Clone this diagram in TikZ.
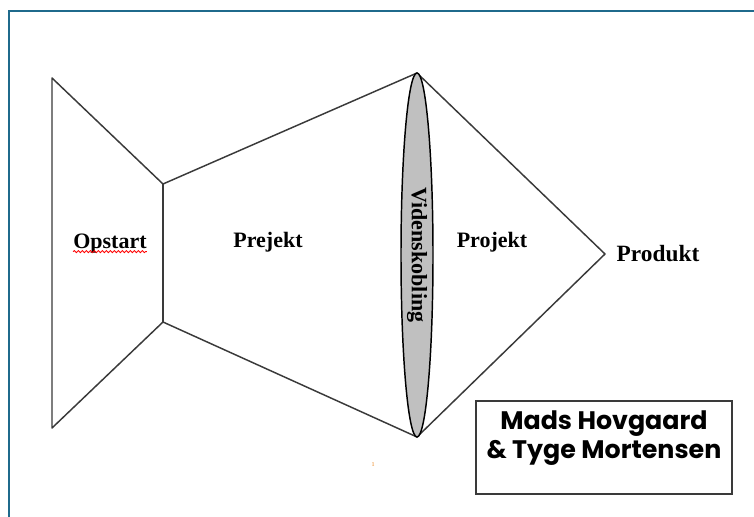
\documentclass[tikz,border=0pt]{standalone}
\usepackage{fontspec}
\setmainfont{Liberation Serif}
\newfontfamily\boxfont{Poppins}
\usetikzlibrary{shapes.geometric,decorations.pathmorphing}
\definecolor{framecol}{HTML}{1F6A8C}
\definecolor{linecol}{HTML}{3A3A3A}
\definecolor{lensfill}{HTML}{C0C0C0}
\tikzset{
  shape line/.style={draw=linecol, line width=1.1pt, line join=round},
  phase label/.style={font=\fontsize{16.5}{18}\selectfont\bfseries, inner sep=0pt},
}
\begin{document}
\begin{tikzpicture}[x=0.75pt, y=-0.75pt]
  \useasboundingbox (0,0) rectangle (754,517);
  \fill[white] (0,0) rectangle (754,517);
  % outer frame
  \draw[framecol, line width=1.6pt] (9,517) -- (9,11) -- (754,11);

  % corner points of the outline
  \coordinate (a1) at (52,78);
  \coordinate (a2) at (52,428);
  \coordinate (b1) at (163,184);
  \coordinate (b2) at (163,322);
  \coordinate (c1) at (417,73);
  \coordinate (c2) at (417,437);
  \coordinate (tip) at (605,254);

  % start funnel
  \draw[shape line] (b1) -- (a1) -- (a2) -- (b2);
  \draw[shape line] (b1) -- (b2);
  % widening section
  \draw[shape line] (b1) -- (c1);
  \draw[shape line] (b2) -- (c2);
  % narrowing section
  \draw[shape line] (c1) -- (tip) -- (c2);

  % knowledge lens
  \node[ellipse, draw=black, line width=1.1pt, fill=lensfill,
        minimum width=32*0.75pt, minimum height=364*0.75pt, inner sep=0pt]
        (lens) at (417,255) {};
  \node[phase label, rotate=-90] (lenstext) at (lens.center) {Videnskobling};

  % phase labels
  \node[phase label] (opstart) at (110,244) {Opstart};
  \draw[red, line width=0.6pt, decorate,
        decoration={snake, amplitude=0.8pt, segment length=3pt}]
        ([yshift=-2pt]opstart.base west) -- ([yshift=-2pt]opstart.base east);
  \node[phase label] (prejekt) at (268,242) {Prejekt};
  \node[phase label] (projekt) at (492,242) {Projekt};
  \node[phase label, font=\fontsize{17.5}{19}\selectfont\bfseries] (produkt) at (658,254) {Produkt};

  % page number
  \node[text=orange!70!brown, font=\fontsize{4.5}{5}\selectfont, inner sep=0pt] (pagenum) at (373,465) {1};

  % authors box
  \node[draw=linecol, line width=1.5pt, minimum width=256*0.75pt, minimum height=93*0.75pt,
        inner sep=0pt] (authors) at (604,447.5) {};
  \node[font=\boxfont\fontsize{19}{22}\selectfont\bfseries, align=center, inner sep=0pt]
        (names) at (604,438) {Mads Hovgaard\\\& Tyge Mortensen};
\end{tikzpicture}
\end{document}
